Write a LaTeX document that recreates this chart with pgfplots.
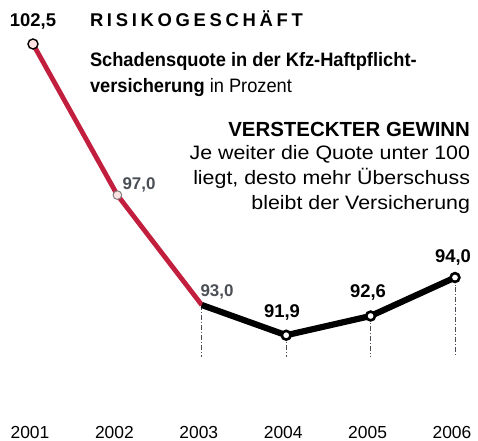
\documentclass[border=0pt]{standalone}
\usepackage{fontspec}
\setmainfont{Liberation Sans}
\newfontfamily\cond[FakeStretch=0.94]{Liberation Sans}
\newfontfamily\wide[FakeStretch=1.1]{Liberation Sans}
\newfontfamily\spaced[LetterSpace=20]{Liberation Sans}
\usepackage{pgfplots}
\pgfplotsset{compat=1.18}
\definecolor{redline}{HTML}{C21F3E}
\definecolor{labgray}{HTML}{4A4F55}
\begin{document}
\begin{tikzpicture}
\useasboundingbox (0,0) rectangle (478bp,441bp);
\begin{axis}[at={(33bp,20.6bp)}, anchor=south west, scale only axis,
  width=422bp, height=417.6bp,
  xmin=2001, xmax=2006, ymin=88.8, ymax=104, clip=false,
  axis line style={draw=none}, tick style={draw=none},
  ytick=\empty, xtick={2001,2002,2003,2004,2005,2006},
  xticklabels={2001,2002,2003,2004,2005,2006},
  xticklabel style={font=\fontsize{17.5}{17.5}\selectfont, inner sep=0pt, anchor=center, yshift=-12bp, xshift=-3bp}]
\addplot[labgray, line width=0.8pt, dash pattern=on 5pt off 2pt on 1pt off 2pt] coordinates {(2003,93.0) (2003,91.1)};
\addplot[labgray, line width=0.8pt, dash pattern=on 5pt off 2pt on 1pt off 2pt] coordinates {(2004,91.9) (2004,91.1)};
\addplot[labgray, line width=0.8pt, dash pattern=on 5pt off 2pt on 1pt off 2pt] coordinates {(2005,92.6) (2005,91.1)};
\addplot[labgray, line width=0.8pt, dash pattern=on 5pt off 2pt on 1pt off 2pt] coordinates {(2006,94.0) (2006,91.1)};
\addplot[redline, line width=4.8bp] coordinates {(2001,102.5) (2002,97.0) (2003,93.0)};
\addplot[black, line width=6.2bp] coordinates {(2003,93.0) (2004,91.9) (2005,92.6) (2006,94.0)};
\addplot[only marks, mark=*, mark size=4.4bp, mark options={fill=white, draw=black, line width=2.6bp}] coordinates {(2004,91.9) (2005,92.6) (2006,94.0)};
\addplot[only marks, mark=*, mark size=5bp, mark options={fill=pink!45, draw=black, line width=1.4bp}] coordinates {(2001,102.5)};
\addplot[only marks, mark=*, mark size=4.3bp, mark options={fill=pink!45, draw=gray, line width=1pt}] coordinates {(2002,97.0)};
\end{axis}
\begin{scope}[shift={(0bp,441bp)}, x=1bp, y=-1bp]
\tikzset{every node/.style={inner sep=0pt, outer sep=0pt}}
\node[font=\bfseries\fontsize{18.5}{18.5}\selectfont] at (33,21.5) {102,5};
\node[anchor=base west, font=\spaced\bfseries\fontsize{18.5}{18.5}\selectfont] at (90,27) {RISIKOGESCHÄFT};
\node[anchor=base west, font=\cond\bfseries\fontsize{19.5}{19.5}\selectfont] at (90,67) {Schadensquote in der Kfz-Haftpflicht-};
\node[anchor=base west, font=\cond\fontsize{19.5}{19.5}\selectfont] at (90,93) {\bfseries versicherung\mdseries{} in Prozent};
\node[anchor=base east, font=\bfseries\fontsize{20.5}{20.5}\selectfont] at (470,137) {VERSTECKTER GEWINN};
\node[anchor=base east, font=\wide\fontsize{19.5}{19.5}\selectfont] at (470,160) {Je weiter die Quote unter 100};
\node[anchor=base east, font=\wide\fontsize{19.5}{19.5}\selectfont] at (470,185) {liegt, desto mehr Überschuss};
\node[anchor=base east, font=\wide\fontsize{19.5}{19.5}\selectfont] at (470,210) {bleibt der Versicherung};
\node[font=\bfseries\fontsize{17}{17}\selectfont, text=labgray] at (139,185) {97,0};
\node[font=\bfseries\fontsize{17}{17}\selectfont, text=labgray] at (217,292) {93,0};
\node[font=\bfseries\fontsize{18.5}{18.5}\selectfont] at (282,312) {91,9};
\node[font=\bfseries\fontsize{18.5}{18.5}\selectfont] at (368,292) {92,6};
\node[font=\bfseries\fontsize{18.5}{18.5}\selectfont] at (453,257) {94,0};
\end{scope}
\end{tikzpicture}
\end{document}
